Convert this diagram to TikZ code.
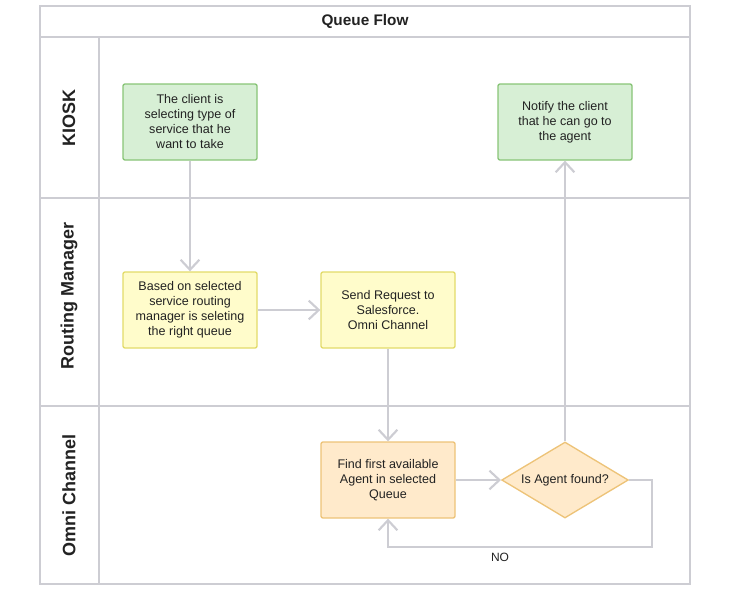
\documentclass[tikz,border=0pt]{standalone}
\usepackage{fontspec}
\setmainfont{Liberation Sans}
\usetikzlibrary{shapes.geometric,arrows.meta}
\definecolor{lanegray}{HTML}{CDCDD3}
\definecolor{greenfill}{HTML}{D7EFD5}
\definecolor{greenline}{HTML}{88C477}
\definecolor{yellowfill}{HTML}{FFFCCB}
\definecolor{yellowline}{HTML}{E2DB69}
\definecolor{orangefill}{HTML}{FFEACB}
\definecolor{orangeline}{HTML}{EDC378}
\definecolor{inkgray}{HTML}{222222}

\begin{document}
\begin{tikzpicture}[x=0.75pt, y=-0.75pt,
  every node/.style={text=inkgray},
  lane/.style={draw=lanegray, line width=1.6pt},
  lanelabel/.style={rotate=90, font=\fontsize{13.5}{15}\selectfont\bfseries},
  stepbox/.style={draw, line width=1pt, rounded corners=1.5pt, minimum width=100.5pt,
    minimum height=57pt, align=center, inner sep=2pt, font=\fontsize{9.4}{11.25}\selectfont},
  greenbox/.style={stepbox, fill=greenfill, draw=greenline},
  yellowbox/.style={stepbox, fill=yellowfill, draw=yellowline},
  orangebox/.style={stepbox, fill=orangefill, draw=orangeline},
  decision/.style={diamond, draw=orangeline, fill=orangefill, line width=1pt, inner sep=0pt,
    minimum width=95pt, minimum height=57pt, aspect=1.67, font=\fontsize{9.4}{11.25}\selectfont},
  flow/.style={draw=lanegray, line width=1.8pt, -{Straight Barb[length=7.5pt, width=14pt, line width=1.6pt]}}]
\useasboundingbox (0,0) rectangle (730,592);

% pool and lanes
\draw[lane] (40,6) rectangle (690,584);
\draw[lane] (40,37) -- (690,37);
\draw[lane] (40,198) -- (690,198);
\draw[lane] (40,406) -- (690,406);
\draw[lane] (99,37) -- (99,584);
\node[font=\fontsize{11.5}{13}\selectfont\bfseries] (title) at (365,21) {Queue Flow};
\node[lanelabel] (kiosk) at (69,118) {KIOSK};
\node[lanelabel] (routing) at (69,296) {Routing Manager};
\node[lanelabel] (omni) at (69,495) {Omni Channel};

% steps
\node[greenbox] (select) at (190,122) {The client is\\selecting type of\\service that he\\want to take};
\node[greenbox] (notify) at (565,122) {Notify the client\\that he can go to\\the agent};
\node[yellowbox] (route) at (190,310) {Based on selected\\service routing\\manager is seleting\\the right queue};
\node[yellowbox] (send) at (388,310) {Send Request to\\Salesforce.\\Omni Channel};
\node[orangebox] (find) at (388,480) {Find first available\\Agent in selected\\Queue};
\node[decision] (found) at (565,480) {Is Agent found?};

% connectors
\draw[flow] (select) -- (route);
\draw[flow] (route) -- (send);
\draw[flow] (send) -- (find);
\draw[flow] (find) -- (found);
\draw[flow] (found) -- (notify);
\coordinate (loop) at (652,547);
\draw[flow] (found.east) -| (loop) -| (find.south);
\node[font=\fontsize{9}{11}\selectfont] (no) at (500,557) {NO};
\end{tikzpicture}
\end{document}
